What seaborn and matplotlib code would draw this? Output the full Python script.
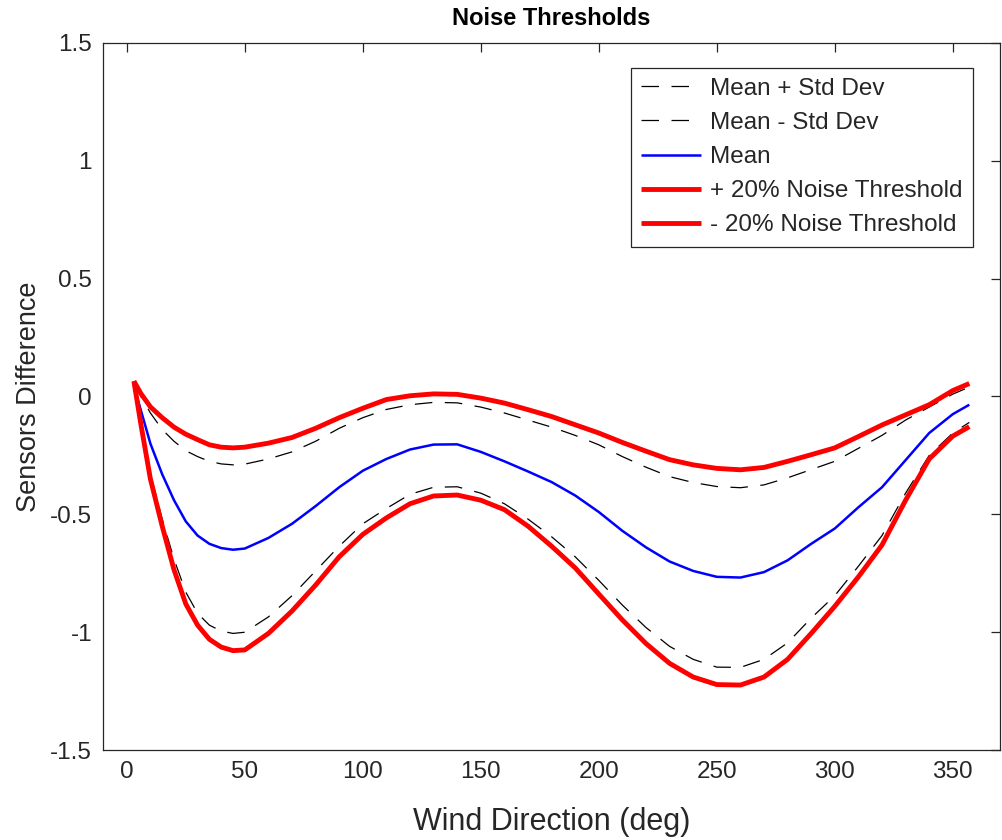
import numpy as np
import pandas as pd
import seaborn as sns
import matplotlib
matplotlib.use("Agg")
import matplotlib.pyplot as plt

# values
wind_dir = [3, 6, 10, 15, 20, 25, 30, 35, 40, 45, 50, 60, 70, 80, 90, 100, 110, 120, 130, 140,
            150, 160, 170, 180, 190, 200, 210, 220, 230, 240, 250, 260, 270, 280, 290, 300,
            310, 320, 330, 340, 350, 357]

mean_diff = [0.045, -0.06, -0.20, -0.33, -0.44, -0.53, -0.59, -0.625, -0.643, -0.65, -0.645, -0.60,
             -0.54, -0.465, -0.385, -0.315, -0.265, -0.225, -0.204, -0.203, -0.235, -0.275, -0.318,
             -0.363, -0.42, -0.49, -0.57, -0.64, -0.70, -0.74, -0.765, -0.768, -0.745, -0.695,
             -0.625, -0.56, -0.47, -0.385, -0.27, -0.155, -0.075, -0.035]

mean_plus_std = [0.06, 0.0, -0.07, -0.14, -0.19, -0.23, -0.255, -0.275, -0.286, -0.29, -0.287, -0.265,
                 -0.235, -0.19, -0.135, -0.09, -0.055, -0.035, -0.025, -0.027, -0.045, -0.07, -0.10,
                 -0.13, -0.165, -0.205, -0.255, -0.30, -0.34, -0.365, -0.382, -0.387, -0.375, -0.345,
                 -0.31, -0.275, -0.22, -0.165, -0.10, -0.045, 0.01, 0.04]

mean_minus_std = [0.03, -0.10, -0.33, -0.52, -0.69, -0.83, -0.92, -0.97, -0.995, -1.005, -1.0, -0.935,
                  -0.845, -0.74, -0.635, -0.54, -0.475, -0.415, -0.385, -0.383, -0.41, -0.455, -0.52,
                  -0.595, -0.68, -0.78, -0.885, -0.98, -1.06, -1.115, -1.148, -1.149, -1.115, -1.045,
                  -0.94, -0.845, -0.72, -0.59, -0.41, -0.25, -0.155, -0.11]

noise_upper = [0.065, 0.012, -0.044, -0.09, -0.13, -0.16, -0.183, -0.205, -0.215, -0.218, -0.215, -0.198,
               -0.174, -0.135, -0.09, -0.05, -0.013, 0.003, 0.011, 0.009, -0.007, -0.028, -0.056,
               -0.085, -0.12, -0.155, -0.195, -0.232, -0.268, -0.29, -0.305, -0.311, -0.301, -0.275,
               -0.247, -0.218, -0.17, -0.121, -0.078, -0.035, 0.025, 0.055]

noise_lower = [0.065, -0.12, -0.35, -0.55, -0.735, -0.88, -0.97, -1.03, -1.063, -1.078, -1.075, -1.005,
               -0.91, -0.80, -0.68, -0.585, -0.515, -0.455, -0.422, -0.418, -0.44, -0.48, -0.55,
               -0.635, -0.727, -0.838, -0.948, -1.048, -1.132, -1.19, -1.222, -1.224, -1.19, -1.115,
               -1.005, -0.89, -0.765, -0.63, -0.44, -0.265, -0.168, -0.128]

df = pd.DataFrame({
    "dir": wind_dir,
    "mean": mean_diff,
    "plus_std": mean_plus_std,
    "minus_std": mean_minus_std,
    "up20": noise_upper,
    "low20": noise_lower,
})

sns.set_style("white")
plt.rcParams['font.family'] = ['Liberation Sans', 'DejaVu Sans']
AX_COL = '#262626'
FONTSIZE = 17.5

fig = plt.figure(figsize=(10.02, 8.4), dpi=100)
ax = fig.add_axes([0.103, 0.107, 0.895, 0.842])

dash = (0, (14, 10))
smooth = dict(solid_joinstyle='round', solid_capstyle='butt')
sns.lineplot(data=df, x="dir", y="plus_std", ax=ax, color='black', linewidth=0.9,
             linestyle=dash, label='Mean + Std Dev')
sns.lineplot(data=df, x="dir", y="minus_std", ax=ax, color='black', linewidth=0.9,
             linestyle=dash, label='Mean - Std Dev')
sns.lineplot(data=df, x="dir", y="mean", ax=ax, color='#0000ff', linewidth=1.8,
             label='Mean', **smooth)
sns.lineplot(data=df, x="dir", y="up20", ax=ax, color='#ff0000', linewidth=3.5,
             label='+ 20% Noise Threshold', **smooth)
sns.lineplot(data=df, x="dir", y="low20", ax=ax, color='#ff0000', linewidth=3.5,
             label='- 20% Noise Threshold', **smooth)

ax.set_xlim(-10, 370)
ax.set_ylim(-1.5, 1.5)
ax.set_xticks(np.arange(0, 351, 50))
ax.set_yticks([-1.5, -1, -0.5, 0, 0.5, 1, 1.5])
ax.set_yticklabels(['-1.5', '-1', '-0.5', '0', '0.5', '1', '1.5'])

for s in ax.spines.values():
    s.set_visible(True)
    s.set_color(AX_COL)
    s.set_linewidth(0.9)
ax.tick_params(direction='in', top=True, right=True, length=6.5, width=0.9,
               colors=AX_COL, labelsize=FONTSIZE, pad=8)

ax.set_xlabel('Wind Direction (deg)', fontsize=22, color=AX_COL, labelpad=17)
ax.set_ylabel('Sensors Difference', fontsize=19.5, color=AX_COL, labelpad=6)
ax.set_title('Noise Thresholds', fontsize=17, fontweight='bold', color='black', pad=13)

leg = ax.legend(loc='upper right', bbox_to_anchor=(0.970, 0.965), borderaxespad=0,
                fontsize=FONTSIZE, frameon=True, fancybox=False, framealpha=1,
                handlelength=2.45, handletextpad=0.4, labelspacing=0.5, borderpad=0.42)
leg.get_frame().set_edgecolor(AX_COL)
leg.get_frame().set_linewidth(0.9)

fig.savefig('out.png', dpi=100)
